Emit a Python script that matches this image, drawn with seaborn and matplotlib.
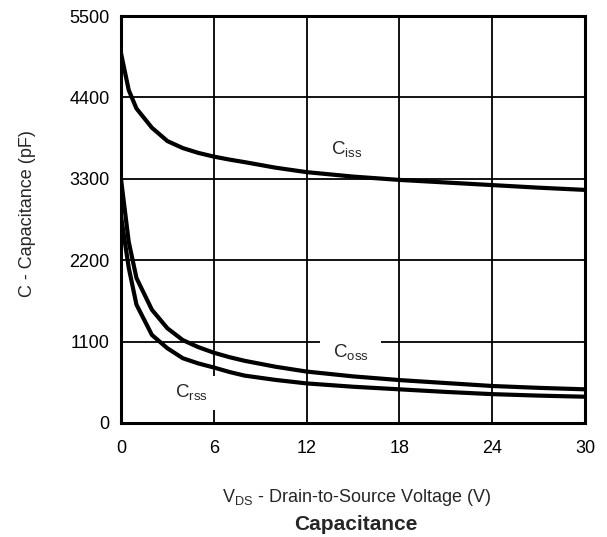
import pandas as pd
import matplotlib
matplotlib.use("Agg")
import matplotlib.pyplot as plt
import seaborn as sns

# ---------------- DATA ----------------
vds = [0, 0.5, 1, 2, 3, 4, 5, 6, 7, 8, 10, 12, 15, 18, 21, 24, 27, 30]
ciss = [5000, 4500, 4250, 3990, 3810, 3715, 3650, 3600, 3560, 3525, 3450, 3390, 3330, 3285, 3250, 3215, 3180, 3150]
coss = [3300, 2450, 1960, 1530, 1280, 1120, 1025, 950, 890, 840, 760, 695, 630, 580, 540, 500, 475, 455]
crss = [2800, 2100, 1600, 1190, 1010, 875, 805, 750, 690, 640, 582, 535, 490, 455, 420, 390, 370, 355]

x_ticks = [0, 6, 12, 18, 24, 30]
y_ticks = [0, 1100, 2200, 3300, 4400, 5500]

df = pd.concat([
    pd.DataFrame({"vds": vds, "cap": ciss, "curve": "Ciss"}),
    pd.DataFrame({"vds": vds, "cap": coss, "curve": "Coss"}),
    pd.DataFrame({"vds": vds, "cap": crss, "curve": "Crss"}),
])

# ---------------- STYLE ----------------
sns.set_theme(style="white")
plt.rcParams["font.family"] = ["Liberation Sans", "DejaVu Sans"]
plt.rcParams["mathtext.fontset"] = "custom"
plt.rcParams["mathtext.rm"] = "Liberation Sans"

fig = plt.figure(figsize=(6.07, 5.37), dpi=100)
ax = fig.add_axes([0.1993, 0.2123, 0.7645, 0.7579])

sns.lineplot(data=df, x="vds", y="cap", hue="curve",
             palette=["black", "black", "black"], linewidth=3,
             legend=False, ax=ax, zorder=3)

ax.set_xlim(0, 30)
ax.set_ylim(0, 5500)
ax.set_xticks(x_ticks)
ax.set_yticks(y_ticks)
ax.grid(True, color="black", linewidth=1.3)
ax.tick_params(axis="both", length=0, labelsize=13, colors="black")
ax.tick_params(axis="x", pad=12)
ax.tick_params(axis="y", pad=8)
for s in ax.spines.values():
    s.set_color("black")
    s.set_linewidth(2.2)

ax.set_xlabel("")
ax.set_ylabel("")
fig.text(0.045, 0.603, "C - Capacitance (pF)", rotation=90,
         ha="center", va="center", fontsize=13)

# curve labels with white boxes over the grid
ax.text(13.6, 3690, r"C$_{\mathregular{iss}}$", fontsize=13.5, ha="left", va="center",
        bbox=dict(facecolor="white", edgecolor="none", pad=3), zorder=4)
ax.text(13.7, 946, r"C$_{\mathregular{oss}}$", fontsize=13.5, ha="left", va="center",
        bbox=dict(facecolor="white", edgecolor="none", pad=9), zorder=2.5)
ax.text(3.5, 405, r"C$_{\mathregular{rss}}$", fontsize=13.5, ha="left", va="center",
        bbox=dict(facecolor="white", edgecolor="none", pad=5), zorder=2.5)

fig.text(0.587, 0.074, r"V$_{\mathregular{DS}}$ - Drain-to-Source Voltage (V)",
         ha="center", va="center", fontsize=13)
fig.text(0.587, 0.024, "Capacitance", ha="center", va="center",
         fontsize=15, fontweight="bold")

fig.savefig("out.png", dpi=100)
